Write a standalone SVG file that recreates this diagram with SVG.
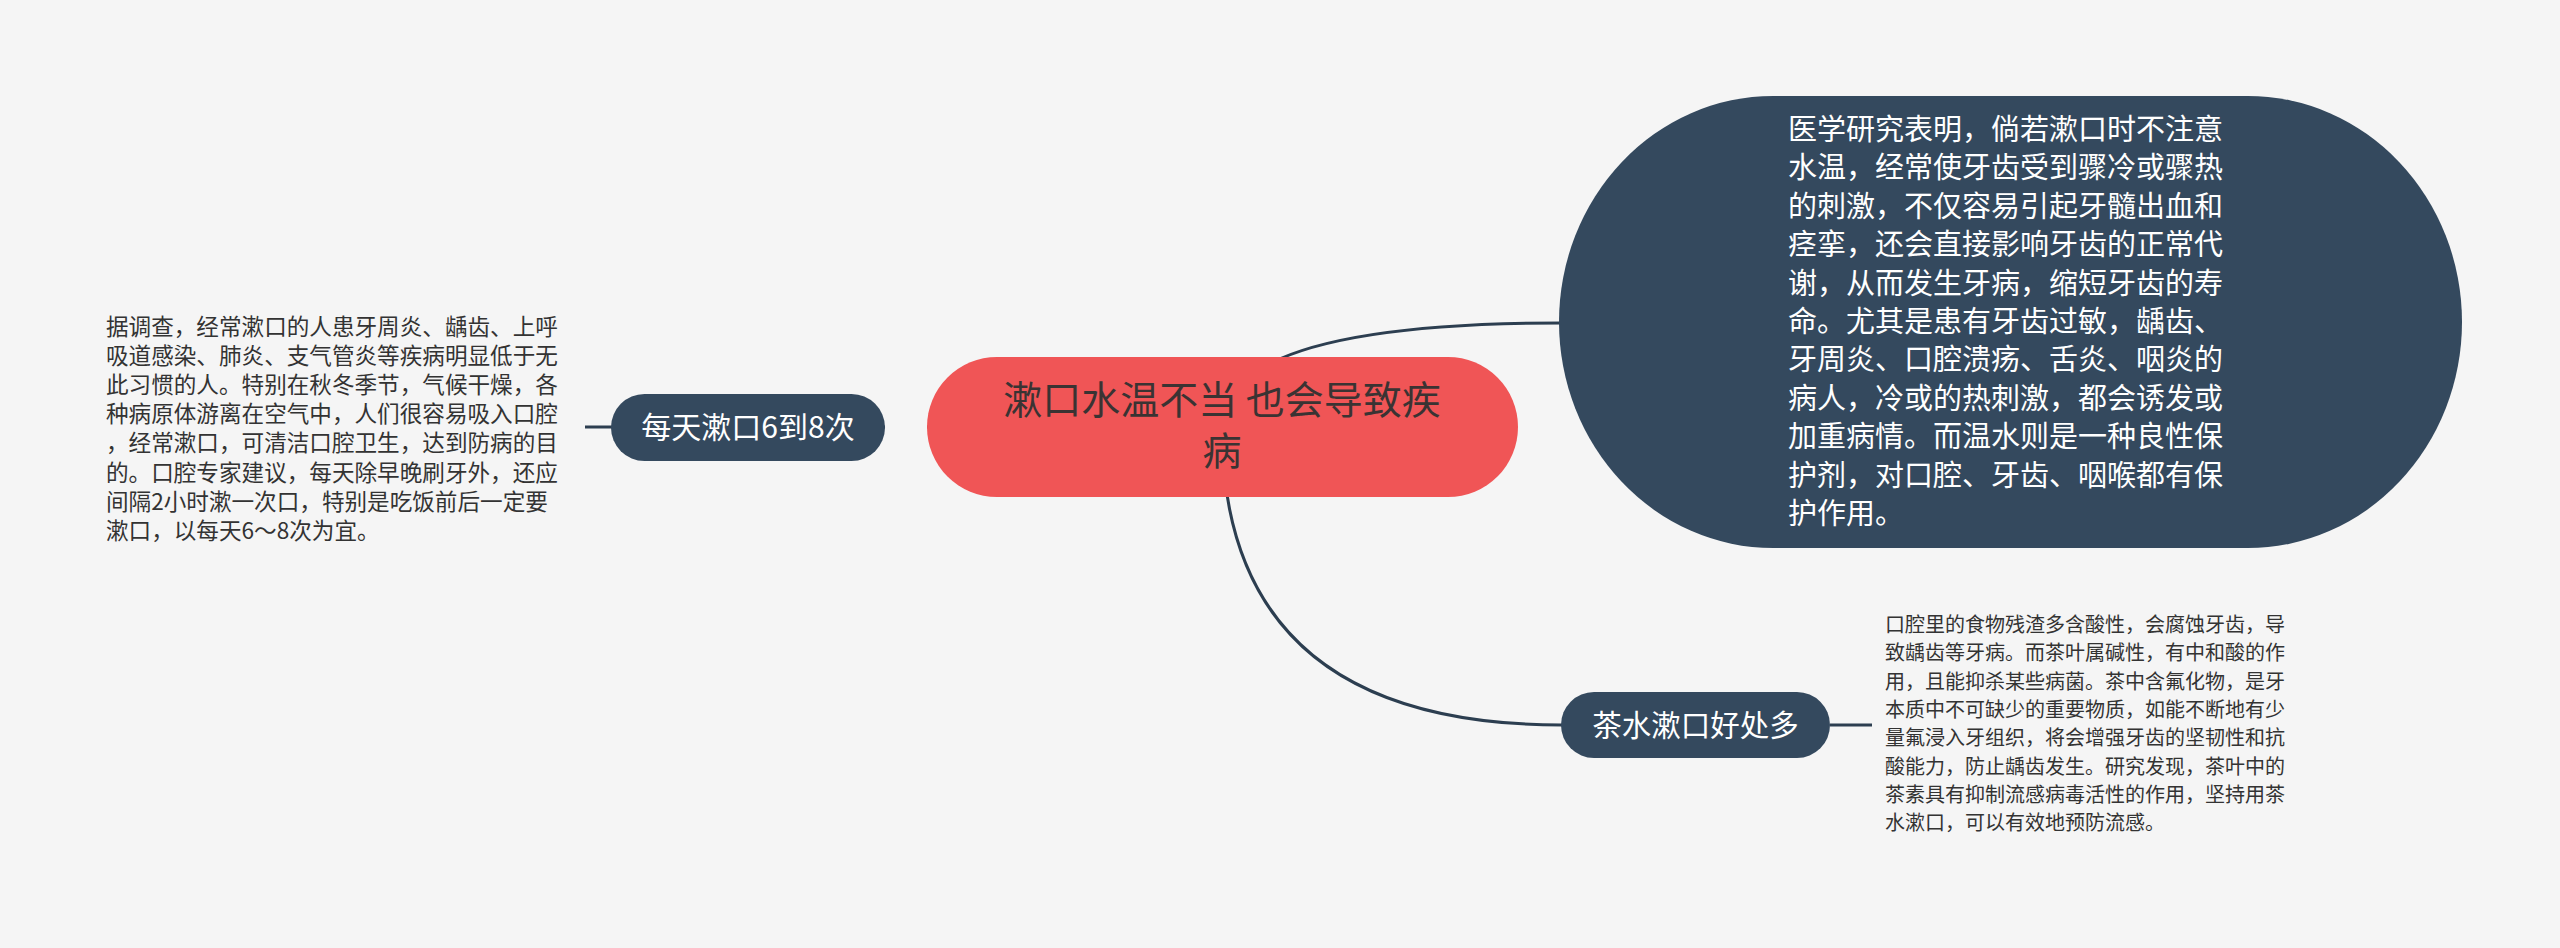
<svg xmlns="http://www.w3.org/2000/svg" width="2560" height="948" viewBox="0 0 2560 948">
<style>
.cn{font-family:"Noto Sans CJK SC","Noto Sans",sans-serif}
.ln{fill:none;stroke:#2C3E50;stroke-width:3}
.dk{fill:#34495E}
.wt{fill:#FFFFFF}
.note{fill:#333333}
</style>
<rect x="0" y="0" width="2560" height="948" fill="#F5F5F5"/>
<g id="connectors">
<path class="ln" d="M1222 427 L927 427"/>
<path class="ln" d="M885 427 L585 427"/>
<path class="ln" d="M1222 427 Q1222 323 1562 323"/>
<path class="ln" d="M1222 427 Q1222 725 1562 725"/>
<path class="ln" d="M1830 725 L1872 725"/>
</g>
<g id="root">
<rect x="927" y="357" width="591" height="140" rx="70" ry="70" fill="#F05556"/>
<text class="cn" x="1222" y="414" font-size="39" fill="#3A3333" text-anchor="middle">漱口水温不当 也会导致疾</text>
<text class="cn" x="1222" y="465" font-size="39" fill="#3A3333" text-anchor="middle">病</text>
</g>
<g id="node-daily">
<rect class="dk" x="611" y="394" width="274" height="67" rx="33.5" ry="33.5"/>
<text class="cn wt" x="748" y="438" font-size="30" text-anchor="middle">每天漱口6到8次</text>
</g>
<g id="note-daily">
<text class="cn note" font-size="22.6">
<tspan x="106" y="334.6">据调查，经常漱口的人患牙周炎、龋齿、上呼</tspan>
<tspan x="106" y="363.8">吸道感染、肺炎、支气管炎等疾病明显低于无</tspan>
<tspan x="106" y="393">此习惯的人。特别在秋冬季节，气候干燥，各</tspan>
<tspan x="106" y="422.2">种病原体游离在空气中，人们很容易吸入口腔</tspan>
<tspan x="106" y="451.4">，经常漱口，可清洁口腔卫生，达到防病的目</tspan>
<tspan x="106" y="480.6">的。口腔专家建议，每天除早晚刷牙外，还应</tspan>
<tspan x="106" y="509.8">间隔2小时漱一次口，特别是吃饭前后一定要</tspan>
<tspan x="106" y="539">漱口，以每天6～8次为宜。</tspan>
</text>
</g>
<g id="node-temp">
<rect class="dk" x="1559" y="96" width="903" height="452" rx="214" ry="226"/>
<text class="cn wt" font-size="29">
<tspan x="1788" y="140">医学研究表明，倘若漱口时不注意</tspan>
<tspan x="1788" y="178.4">水温，经常使牙齿受到骤冷或骤热</tspan>
<tspan x="1788" y="216.8">的刺激，不仅容易引起牙髓出血和</tspan>
<tspan x="1788" y="255.2">痉挛，还会直接影响牙齿的正常代</tspan>
<tspan x="1788" y="293.6">谢，从而发生牙病，缩短牙齿的寿</tspan>
<tspan x="1788" y="332">命。尤其是患有牙齿过敏，龋齿、</tspan>
<tspan x="1788" y="370.4">牙周炎、口腔溃疡、舌炎、咽炎的</tspan>
<tspan x="1788" y="408.8">病人，冷或的热刺激，都会诱发或</tspan>
<tspan x="1788" y="447.2">加重病情。而温水则是一种良性保</tspan>
<tspan x="1788" y="485.6">护剂，对口腔、牙齿、咽喉都有保</tspan>
<tspan x="1788" y="524">护作用。</tspan>
</text>
</g>
<g id="node-tea">
<rect class="dk" x="1561" y="692" width="269" height="66" rx="33" ry="33"/>
<text class="cn wt" x="1695.5" y="735.5" font-size="29.5" text-anchor="middle">茶水漱口好处多</text>
</g>
<g id="note-tea">
<text class="cn note" font-size="20">
<tspan x="1885" y="632">口腔里的食物残渣多含酸性，会腐蚀牙齿，导</tspan>
<tspan x="1885" y="660.3">致龋齿等牙病。而茶叶属碱性，有中和酸的作</tspan>
<tspan x="1885" y="688.7">用，且能抑杀某些病菌。茶中含氟化物，是牙</tspan>
<tspan x="1885" y="717">本质中不可缺少的重要物质，如能不断地有少</tspan>
<tspan x="1885" y="745.3">量氟浸入牙组织，将会增强牙齿的坚韧性和抗</tspan>
<tspan x="1885" y="773.7">酸能力，防止龋齿发生。研究发现，茶叶中的</tspan>
<tspan x="1885" y="802">茶素具有抑制流感病毒活性的作用，坚持用茶</tspan>
<tspan x="1885" y="830.3">水漱口，可以有效地预防流感。</tspan>
</text>
</g>
</svg>
